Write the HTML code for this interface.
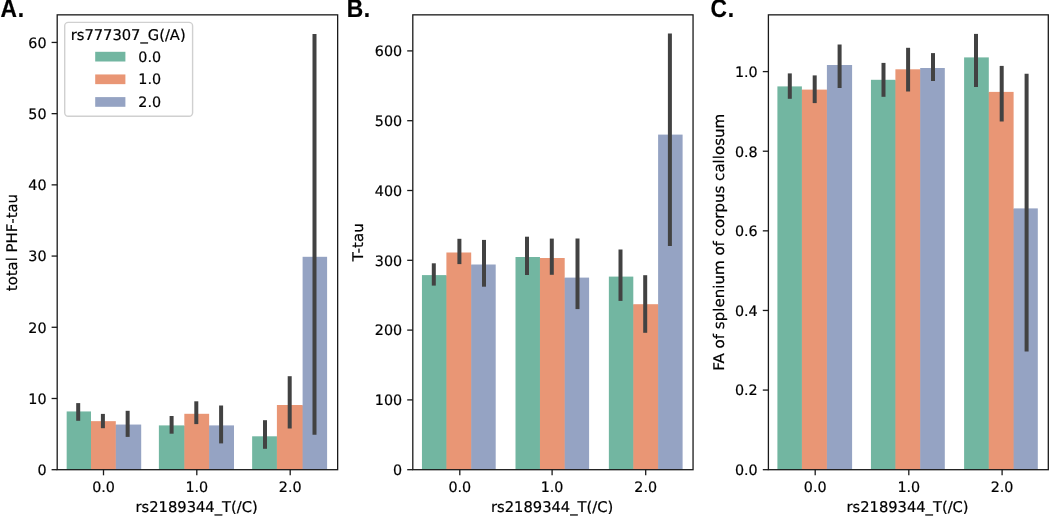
<!DOCTYPE html>
<html lang="en">
<head>
<meta charset="utf-8">
<title>Figure</title>
<style>
html,body{margin:0;padding:0;background:#fff;}
body{width:1050px;height:517px;overflow:hidden;}
svg{display:block;}
text{text-rendering:geometricPrecision;font-family:"DejaVu Sans","Liberation Sans",sans-serif;font-size:14.7px;fill:#000;stroke:#000;stroke-width:0.2px;}
.tk{font-size:14.3px;}
.pl{font-family:"Liberation Sans",Arial,Helvetica,sans-serif;font-weight:bold;font-size:24px;letter-spacing:0.6px;}
</style>
</head>
<body>
<svg width="1050" height="517" viewBox="0 0 1050 517">
<rect width="1050" height="517" fill="#fff"/>

<g>
<rect x="90.5" y="421.65" width="1" height="48.05" fill="#72b6a1"/>
<rect x="115.3" y="425.05" width="1" height="44.65" fill="#e99675"/>
<rect x="183.83" y="425.9" width="1" height="43.8" fill="#72b6a1"/>
<rect x="208.63" y="425.9" width="1" height="43.8" fill="#e99675"/>
<rect x="276.4" y="436.8" width="1" height="32.9" fill="#72b6a1"/>
<rect x="302.1" y="405.5" width="1" height="64.2" fill="#e99675"/>
<rect x="66.67" y="411.45" width="24.33" height="58.25" fill="#72b6a1"/>
<rect x="91" y="421.15" width="24.8" height="48.55" fill="#e99675"/>
<rect x="115.8" y="424.55" width="25.4" height="45.15" fill="#95a3c3"/>
<rect x="158.87" y="425.4" width="25.46" height="44.3" fill="#72b6a1"/>
<rect x="184.33" y="413.8" width="24.8" height="55.9" fill="#e99675"/>
<rect x="209.13" y="425.4" width="24.87" height="44.3" fill="#95a3c3"/>
<rect x="252.14" y="436.3" width="24.76" height="33.4" fill="#72b6a1"/>
<rect x="276.9" y="405" width="25.7" height="64.7" fill="#e99675"/>
<rect x="302.6" y="256.8" width="24.5" height="212.9" fill="#95a3c3"/>
<line x1="78.2" y1="403.1" x2="78.2" y2="420.8" stroke="#424242" stroke-width="4.0"/>
<line x1="102.9" y1="413.9" x2="102.9" y2="428.2" stroke="#424242" stroke-width="4.0"/>
<line x1="127.65" y1="410.8" x2="127.65" y2="436.9" stroke="#424242" stroke-width="4.0"/>
<line x1="171.6" y1="416" x2="171.6" y2="433.7" stroke="#424242" stroke-width="4.0"/>
<line x1="196.3" y1="401.3" x2="196.3" y2="424.1" stroke="#424242" stroke-width="4.0"/>
<line x1="221.1" y1="405.5" x2="221.1" y2="443.4" stroke="#424242" stroke-width="4.0"/>
<line x1="265" y1="420.2" x2="265" y2="448.8" stroke="#424242" stroke-width="4.0"/>
<line x1="289.7" y1="376.2" x2="289.7" y2="428.5" stroke="#424242" stroke-width="4.0"/>
<line x1="314.5" y1="33.9" x2="314.5" y2="434.8" stroke="#424242" stroke-width="4.0"/>
<rect x="57.2" y="14.85" width="280.45" height="454.85" fill="none" stroke="#1a1a1a" stroke-width="1.3"/>
<line x1="51.6" y1="469.7" x2="57.2" y2="469.7" stroke="#1a1a1a" stroke-width="1.3"/>
<text transform="translate(46.5 475) scale(1 1)" class="tk" text-anchor="end">0</text>
<line x1="51.6" y1="398.49" x2="57.2" y2="398.49" stroke="#1a1a1a" stroke-width="1.3"/>
<text transform="translate(46.5 404) scale(1 1)" class="tk" text-anchor="end">10</text>
<line x1="51.6" y1="327.28" x2="57.2" y2="327.28" stroke="#1a1a1a" stroke-width="1.3"/>
<text transform="translate(46.5 333) scale(1 1)" class="tk" text-anchor="end">20</text>
<line x1="51.6" y1="256.07" x2="57.2" y2="256.07" stroke="#1a1a1a" stroke-width="1.3"/>
<text transform="translate(46.5 261) scale(1 1)" class="tk" text-anchor="end">30</text>
<line x1="51.6" y1="184.86" x2="57.2" y2="184.86" stroke="#1a1a1a" stroke-width="1.3"/>
<text transform="translate(46.5 190) scale(1 1)" class="tk" text-anchor="end">40</text>
<line x1="51.6" y1="113.65" x2="57.2" y2="113.65" stroke="#1a1a1a" stroke-width="1.3"/>
<text transform="translate(46.5 119) scale(1 1)" class="tk" text-anchor="end">50</text>
<line x1="51.6" y1="42.44" x2="57.2" y2="42.44" stroke="#1a1a1a" stroke-width="1.3"/>
<text transform="translate(46.5 48) scale(1 1)" class="tk" text-anchor="end">60</text>
<line x1="103.5" y1="469.7" x2="103.5" y2="475.3" stroke="#1a1a1a" stroke-width="1.3"/>
<text transform="translate(103.5 492) scale(1 1)" class="tk" text-anchor="middle">0.0</text>
<line x1="196.8" y1="469.7" x2="196.8" y2="475.3" stroke="#1a1a1a" stroke-width="1.3"/>
<text transform="translate(196.8 492) scale(1 1)" class="tk" text-anchor="middle">1.0</text>
<line x1="290.2" y1="469.7" x2="290.2" y2="475.3" stroke="#1a1a1a" stroke-width="1.3"/>
<text transform="translate(290.2 492) scale(1 1)" class="tk" text-anchor="middle">2.0</text>
<text transform="translate(196.62 511.9) scale(1 1)" text-anchor="middle">rs2189344_T(/C)</text>
<text transform="translate(17.2 242.58) scale(1 1.012) rotate(-90)" text-anchor="middle">total PHF-tau</text>
<text transform="translate(0.6 17.4) scale(0.95 1.065)" class="pl">A.</text>
</g>
<g>
<rect x="445.9" y="275.6" width="1" height="194.1" fill="#72b6a1"/>
<rect x="470.7" y="265" width="1" height="204.7" fill="#e99675"/>
<rect x="539.45" y="258.5" width="1" height="211.2" fill="#72b6a1"/>
<rect x="564.2" y="278.1" width="1" height="191.6" fill="#e99675"/>
<rect x="632.8" y="304.7" width="1" height="165" fill="#72b6a1"/>
<rect x="657.6" y="304.7" width="1" height="165" fill="#e99675"/>
<rect x="421.95" y="275.1" width="24.45" height="194.6" fill="#72b6a1"/>
<rect x="446.4" y="252.5" width="24.8" height="217.2" fill="#e99675"/>
<rect x="471.2" y="264.5" width="24.5" height="205.2" fill="#95a3c3"/>
<rect x="515.5" y="257" width="24.45" height="212.7" fill="#72b6a1"/>
<rect x="539.95" y="258" width="24.75" height="211.7" fill="#e99675"/>
<rect x="564.7" y="277.6" width="24.4" height="192.1" fill="#95a3c3"/>
<rect x="608.86" y="276.6" width="24.44" height="193.1" fill="#72b6a1"/>
<rect x="633.3" y="304.2" width="24.8" height="165.5" fill="#e99675"/>
<rect x="658.1" y="134.6" width="24.5" height="335.1" fill="#95a3c3"/>
<line x1="433.8" y1="263.3" x2="433.8" y2="285.6" stroke="#424242" stroke-width="4.0"/>
<line x1="459.4" y1="238.8" x2="459.4" y2="264.1" stroke="#424242" stroke-width="4.0"/>
<line x1="484" y1="239.9" x2="484" y2="286.7" stroke="#424242" stroke-width="4.0"/>
<line x1="527" y1="236.7" x2="527" y2="275" stroke="#424242" stroke-width="4.0"/>
<line x1="551.8" y1="238.6" x2="551.8" y2="274.8" stroke="#424242" stroke-width="4.0"/>
<line x1="577.5" y1="238.5" x2="577.5" y2="309.1" stroke="#424242" stroke-width="4.0"/>
<line x1="620.5" y1="249.5" x2="620.5" y2="300.9" stroke="#424242" stroke-width="4.0"/>
<line x1="645.2" y1="275.2" x2="645.2" y2="332.8" stroke="#424242" stroke-width="4.0"/>
<line x1="669.9" y1="33.5" x2="669.9" y2="246" stroke="#424242" stroke-width="4.0"/>
<rect x="412.8" y="14.85" width="280.25" height="454.85" fill="none" stroke="#1a1a1a" stroke-width="1.3"/>
<line x1="407.2" y1="469.7" x2="412.8" y2="469.7" stroke="#1a1a1a" stroke-width="1.3"/>
<text transform="translate(402.1 475) scale(1 1)" class="tk" text-anchor="end">0</text>
<line x1="407.2" y1="399.9" x2="412.8" y2="399.9" stroke="#1a1a1a" stroke-width="1.3"/>
<text transform="translate(402.1 405) scale(1 1)" class="tk" text-anchor="end">100</text>
<line x1="407.2" y1="330.1" x2="412.8" y2="330.1" stroke="#1a1a1a" stroke-width="1.3"/>
<text transform="translate(402.1 335) scale(1 1)" class="tk" text-anchor="end">200</text>
<line x1="407.2" y1="260.3" x2="412.8" y2="260.3" stroke="#1a1a1a" stroke-width="1.3"/>
<text transform="translate(402.1 266) scale(1 1)" class="tk" text-anchor="end">300</text>
<line x1="407.2" y1="190.5" x2="412.8" y2="190.5" stroke="#1a1a1a" stroke-width="1.3"/>
<text transform="translate(402.1 196) scale(1 1)" class="tk" text-anchor="end">400</text>
<line x1="407.2" y1="120.7" x2="412.8" y2="120.7" stroke="#1a1a1a" stroke-width="1.3"/>
<text transform="translate(402.1 126) scale(1 1)" class="tk" text-anchor="end">500</text>
<line x1="407.2" y1="50.9" x2="412.8" y2="50.9" stroke="#1a1a1a" stroke-width="1.3"/>
<text transform="translate(402.1 56) scale(1 1)" class="tk" text-anchor="end">600</text>
<line x1="459.8" y1="469.7" x2="459.8" y2="475.3" stroke="#1a1a1a" stroke-width="1.3"/>
<text transform="translate(459.8 492) scale(1 1)" class="tk" text-anchor="middle">0.0</text>
<line x1="552.1" y1="469.7" x2="552.1" y2="475.3" stroke="#1a1a1a" stroke-width="1.3"/>
<text transform="translate(552.1 492) scale(1 1)" class="tk" text-anchor="middle">1.0</text>
<line x1="645.7" y1="469.7" x2="645.7" y2="475.3" stroke="#1a1a1a" stroke-width="1.3"/>
<text transform="translate(645.7 492) scale(1 1)" class="tk" text-anchor="middle">2.0</text>
<text transform="translate(552.12 511.9) scale(1 1)" text-anchor="middle">rs2189344_T(/C)</text>
<text transform="translate(362.7 242.28) scale(1 1.025) rotate(-90)" text-anchor="middle">T-tau</text>
<text transform="translate(346.8 17.4) scale(0.95 1.065)" class="pl">B.</text>
</g>
<g>
<rect x="801.4" y="90.1" width="1" height="379.6" fill="#72b6a1"/>
<rect x="826.4" y="90.1" width="1" height="379.6" fill="#e99675"/>
<rect x="894.9" y="80.3" width="1" height="389.4" fill="#72b6a1"/>
<rect x="919.7" y="69.8" width="1" height="399.9" fill="#e99675"/>
<rect x="988.3" y="92.4" width="1" height="377.3" fill="#72b6a1"/>
<rect x="1013.1" y="208.9" width="1" height="260.8" fill="#e99675"/>
<rect x="777.4" y="86.4" width="24.5" height="383.3" fill="#72b6a1"/>
<rect x="801.9" y="89.6" width="25" height="380.1" fill="#e99675"/>
<rect x="826.9" y="65" width="25.2" height="404.7" fill="#95a3c3"/>
<rect x="870.95" y="79.8" width="24.45" height="389.9" fill="#72b6a1"/>
<rect x="895.4" y="69.3" width="24.8" height="400.4" fill="#e99675"/>
<rect x="920.2" y="68" width="24.6" height="401.7" fill="#95a3c3"/>
<rect x="964.1" y="57.4" width="24.7" height="412.3" fill="#72b6a1"/>
<rect x="988.8" y="91.9" width="24.8" height="377.8" fill="#e99675"/>
<rect x="1013.6" y="208.4" width="24.2" height="261.3" fill="#95a3c3"/>
<line x1="789.8" y1="73.4" x2="789.8" y2="98.8" stroke="#424242" stroke-width="4.0"/>
<line x1="814.7" y1="75.4" x2="814.7" y2="103.1" stroke="#424242" stroke-width="4.0"/>
<line x1="839.6" y1="44.5" x2="839.6" y2="88" stroke="#424242" stroke-width="4.0"/>
<line x1="883.5" y1="62.9" x2="883.5" y2="96.8" stroke="#424242" stroke-width="4.0"/>
<line x1="908.1" y1="47.8" x2="908.1" y2="91.5" stroke="#424242" stroke-width="4.0"/>
<line x1="933" y1="53.1" x2="933" y2="81" stroke="#424242" stroke-width="4.0"/>
<line x1="976" y1="33.9" x2="976" y2="87" stroke="#424242" stroke-width="4.0"/>
<line x1="1001.7" y1="65.9" x2="1001.7" y2="121.5" stroke="#424242" stroke-width="4.0"/>
<line x1="1026.6" y1="73.7" x2="1026.6" y2="351.5" stroke="#424242" stroke-width="4.0"/>
<rect x="768.4" y="14.85" width="279.9" height="454.85" fill="none" stroke="#1a1a1a" stroke-width="1.3"/>
<line x1="762.8" y1="469.7" x2="768.4" y2="469.7" stroke="#1a1a1a" stroke-width="1.3"/>
<text transform="translate(757.7 475) scale(1 1)" class="tk" text-anchor="end">0.0</text>
<line x1="762.8" y1="390.08" x2="768.4" y2="390.08" stroke="#1a1a1a" stroke-width="1.3"/>
<text transform="translate(757.7 395) scale(1 1)" class="tk" text-anchor="end">0.2</text>
<line x1="762.8" y1="310.46" x2="768.4" y2="310.46" stroke="#1a1a1a" stroke-width="1.3"/>
<text transform="translate(757.7 316) scale(1 1)" class="tk" text-anchor="end">0.4</text>
<line x1="762.8" y1="230.84" x2="768.4" y2="230.84" stroke="#1a1a1a" stroke-width="1.3"/>
<text transform="translate(757.7 236) scale(1 1)" class="tk" text-anchor="end">0.6</text>
<line x1="762.8" y1="151.22" x2="768.4" y2="151.22" stroke="#1a1a1a" stroke-width="1.3"/>
<text transform="translate(757.7 157) scale(1 1)" class="tk" text-anchor="end">0.8</text>
<line x1="762.8" y1="71.6" x2="768.4" y2="71.6" stroke="#1a1a1a" stroke-width="1.3"/>
<text transform="translate(757.7 77) scale(1 1)" class="tk" text-anchor="end">1.0</text>
<line x1="815.2" y1="469.7" x2="815.2" y2="475.3" stroke="#1a1a1a" stroke-width="1.3"/>
<text transform="translate(815.2 492) scale(1 1)" class="tk" text-anchor="middle">0.0</text>
<line x1="908.8" y1="469.7" x2="908.8" y2="475.3" stroke="#1a1a1a" stroke-width="1.3"/>
<text transform="translate(908.8 492) scale(1 1)" class="tk" text-anchor="middle">1.0</text>
<line x1="1002.1" y1="469.7" x2="1002.1" y2="475.3" stroke="#1a1a1a" stroke-width="1.3"/>
<text transform="translate(1002.1 492) scale(1 1)" class="tk" text-anchor="middle">2.0</text>
<text transform="translate(907.55 511.9) scale(1 1)" text-anchor="middle">rs2189344_T(/C)</text>
<text transform="translate(723.6 242.28) scale(1 1.025) rotate(-90)" text-anchor="middle">FA of splenium of corpus callosum</text>
<text transform="translate(710.6 17.4) scale(0.95 1.065)" class="pl">C.</text>
</g>
<g>
<rect x="64.7" y="22.4" width="127.9" height="93.9" rx="3.5" ry="3.5" fill="#fff" fill-opacity="0.8" stroke="#c8c8c8" stroke-opacity="0.85" stroke-width="1.4"/>
<text transform="translate(70.7 40.1) scale(1 1)">rs777307_G(/A)</text>
<rect x="95.2" y="51.8" width="30.2" height="9.7" fill="#72b6a1"/>
<text transform="translate(138.3 61.8) scale(1 1)" class="tk">0.0</text>
<rect x="95.2" y="74.45" width="30.2" height="9.7" fill="#e99675"/>
<text transform="translate(138.3 84.45) scale(1 1)" class="tk">1.0</text>
<rect x="95.2" y="97.1" width="30.2" height="9.7" fill="#95a3c3"/>
<text transform="translate(138.3 107.1) scale(1 1)" class="tk">2.0</text>
</g>
</svg>
</body>
</html>
